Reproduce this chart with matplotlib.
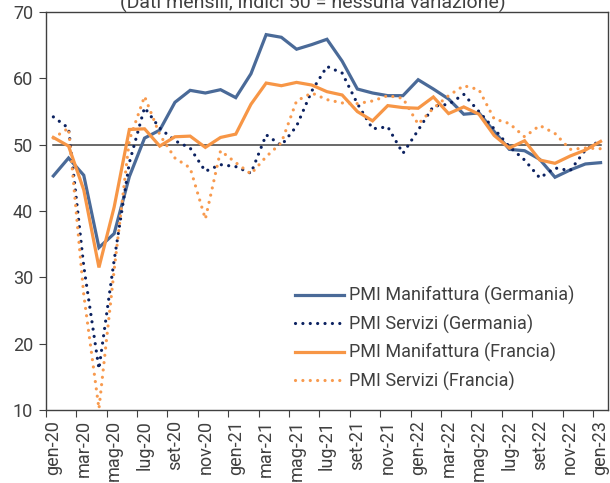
import matplotlib
matplotlib.use("Agg")
import matplotlib.pyplot as plt
import numpy as np

plt.rcParams['font.family'] = ['Roboto', 'DejaVu Sans']

mesi = ["gen", "feb", "mar", "apr", "mag", "giu", "lug", "ago", "set", "ott", "nov", "dic"]
dates = [f"{mesi[i % 12]}-{20 + i // 12}" for i in range(37)]

ger_manuf = [45.3, 48.0, 45.4, 34.5, 36.6, 45.2, 51.0, 52.2, 56.4, 58.2, 57.8, 58.3,
             57.1, 60.7, 66.6, 66.2, 64.4, 65.1, 65.9, 62.6, 58.4, 57.8, 57.4, 57.4,
             59.8, 58.4, 56.9, 54.6, 54.8, 52.0, 49.3, 49.1, 47.8, 45.1, 46.2, 47.1, 47.3]
ger_serv = [54.2, 52.5, 31.7, 16.2, 32.6, 47.3, 55.6, 52.5, 50.6, 49.5, 46.0, 47.0,
            46.7, 45.7, 51.5, 49.9, 52.8, 58.1, 61.8, 60.8, 56.2, 52.4, 52.7, 48.7,
            52.2, 55.8, 56.1, 57.6, 55.0, 52.4, 49.7, 47.7, 45.0, 46.5, 46.1, 49.2, 50.7]
fra_manuf = [51.1, 49.8, 43.2, 31.5, 40.6, 52.3, 52.4, 49.8, 51.2, 51.3, 49.6, 51.1,
             51.6, 56.1, 59.3, 58.9, 59.4, 59.0, 58.0, 57.5, 55.0, 53.6, 55.9, 55.6,
             55.5, 57.2, 54.7, 55.7, 54.6, 51.4, 49.5, 50.6, 47.7, 47.2, 48.3, 49.2, 50.5]
fra_serv = [51.0, 52.5, 27.4, 10.2, 31.1, 50.7, 57.3, 51.5, 48.0, 46.5, 38.8, 49.1,
            47.3, 45.6, 48.2, 50.3, 56.6, 57.8, 56.8, 56.3, 56.2, 56.6, 57.4, 57.0,
            53.1, 55.5, 57.4, 58.9, 58.3, 53.9, 53.2, 51.2, 52.9, 51.7, 49.3, 49.5, 49.4]
soglia = [50] * len(dates)

labels = ["PMI Manifattura (Germania)", "PMI Servizi (Germania)",
          "PMI Manifattura (Francia)", "PMI Servizi (Francia)"]

fig = plt.figure(figsize=(6.1, 4.83), dpi=100)
ax = fig.add_axes([0.075, 0.151, 0.922, 0.824])

x = np.arange(len(dates))
dot = (0, (0.01, 2.3))
ax.plot(x, soglia, color='#404040', lw=1.1, zorder=1)
ax.plot(x, ger_manuf, color='#4A6A98', lw=2.3, label=labels[0], solid_joinstyle='miter', zorder=3)
ax.plot(x, ger_serv, color='#0B2160', lw=2.3, linestyle=dot, dash_capstyle='round', label=labels[1], zorder=3)
ax.plot(x, fra_manuf, color='#F79646', lw=2.3, label=labels[2], solid_joinstyle='miter', zorder=3)
ax.plot(x, fra_serv, color='#F89A4E', lw=2.3, linestyle=dot, dash_capstyle='round', label=labels[3], zorder=3)

ax.set_xlim(-0.5, len(dates) - 0.5)
ax.set_ylim(10, 70)
ax.set_yticks(range(10, 71, 10))
ax.tick_params(axis='y', labelsize=13, colors='#404040', length=5, width=0.8, direction='out', pad=4)

ax.set_xticks(np.arange(-0.5, len(dates), 2))
ax.set_xticklabels([])
ax.set_xticks(x[::2], minor=True)
ax.set_xticklabels(dates[::2], minor=True, rotation=90, fontsize=13, color='#404040')
ax.tick_params(axis='x', which='major', length=5, width=0.8, color='#404040')
ax.tick_params(axis='x', which='minor', length=0, pad=7)

for s in ax.spines.values():
    s.set_color('#404040')
    s.set_linewidth(1.0)

leg = ax.legend(loc='center left', bbox_to_anchor=(0.431, 0.18), borderaxespad=0, frameon=False,
                fontsize=13, handlelength=2.67, handletextpad=0.28, labelspacing=0.52,
                labelcolor='#404040')

fig.text(0.513, 0.993, "(Dati mensili, indici 50 = nessuna variazione)", ha='center', va='center',
         fontsize=14, color='#404040')

fig.savefig("out.png", dpi=100)
